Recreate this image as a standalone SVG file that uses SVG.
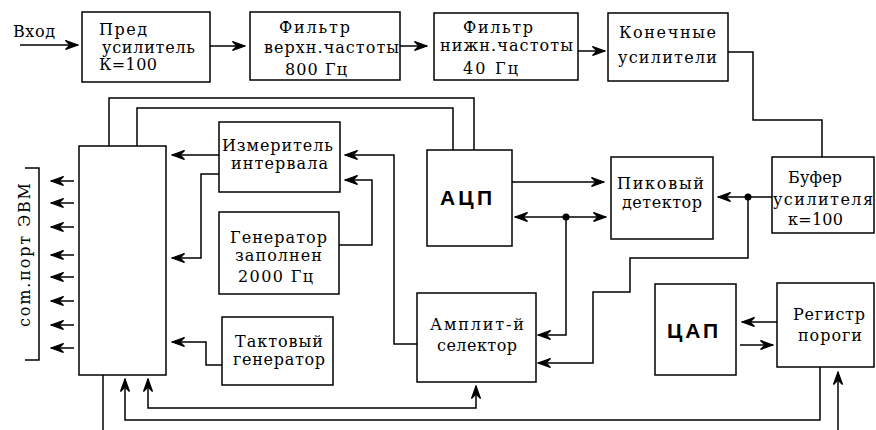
<svg xmlns="http://www.w3.org/2000/svg" width="876" height="430" viewBox="0 0 876 430">
<style>
.b{fill:#fff;stroke:#000;stroke-width:1.5}
.t{font-family:"DejaVu Serif","Liberation Serif",serif;font-size:16px;fill:#000}
.s{font-family:"Liberation Sans",Arial,sans-serif;font-size:21px;font-weight:bold;fill:#000}
.c{fill:none;stroke:#000;stroke-width:1.5}
.a{marker-end:url(#ah)}
.a2{marker-start:url(#ah);marker-end:url(#ah)}
.as{marker-start:url(#ah)}
</style>
<defs>
<marker id="ah" markerUnits="userSpaceOnUse" markerWidth="14" markerHeight="10" viewBox="0 0 14 10" refX="13" refY="5" orient="auto-start-reverse">
<path d="M13,5 L0.5,0.5 L5,5 L0.5,9.5 z" fill="#000" stroke="#000" stroke-width="1.2"/>
</marker>
</defs>
<rect width="876" height="430" fill="#fff"/>
<text class="t" x="13" y="37" textLength="42">Вход</text>
<g id="pre"><rect class="b" x="82" y="12" width="128" height="70"/>
<text class="t" x="99" y="35" textLength="48">Пред</text>
<text class="t" x="102" y="53" textLength="93">усилитель</text>
<text class="t" x="99" y="70" textLength="58">К=100</text></g>
<g id="hpf"><rect class="b" x="250" y="12" width="150" height="68"/>
<text class="t" x="279" y="33" textLength="71">Фильтр</text>
<text class="t" x="264" y="53" textLength="135">верхн.частоты</text>
<text class="t" x="285" y="75" textLength="62">800 Гц</text></g>
<g id="lpf"><rect class="b" x="434" y="13" width="144" height="67"/>
<text class="t" x="463" y="33" textLength="70">Фильтр</text>
<text class="t" x="440" y="51" textLength="133">нижн.частоты</text>
<text class="t" x="463" y="74" textLength="55">40 Гц</text></g>
<g id="amp"><rect class="b" x="608" y="13" width="120" height="68"/>
<text class="t" x="619" y="38" textLength="97">Конечные</text>
<text class="t" x="618" y="63" textLength="99">усилители</text></g>
<g id="buf"><rect class="b" x="772" y="157" width="102" height="76"/>
<text class="t" x="788" y="183" textLength="54">Буфер</text>
<text class="t" x="773" y="205" textLength="100">усилителя</text>
<text class="t" x="788" y="225" textLength="55">к=100</text></g>
<g id="peak"><rect class="b" x="611" y="157" width="102" height="82"/>
<text class="t" x="617" y="189" textLength="87">Пиковый</text>
<text class="t" x="622" y="208" textLength="80">детектор</text></g>
<g id="adc"><rect class="b" x="427" y="150" width="85" height="96"/>
<text class="s" x="440" y="205" textLength="52">АЦП</text></g>
<g id="meas"><rect class="b" x="219" y="122" width="121" height="70"/>
<text class="t" x="222" y="151" textLength="111">Измеритель</text>
<text class="t" x="231" y="169" textLength="97">интервала</text></g>
<g id="gen"><rect class="b" x="219" y="212" width="120" height="82"/>
<text class="t" x="230" y="243" textLength="97">Генератор</text>
<text class="t" x="235" y="261" textLength="87">заполнен</text>
<text class="t" x="238" y="282" textLength="75">2000 Гц</text></g>
<g id="clk"><rect class="b" x="222" y="317" width="111" height="68"/>
<text class="t" x="235" y="347" textLength="88">Тактовый</text>
<text class="t" x="233" y="365" textLength="92">генератор</text></g>
<g id="sel"><rect class="b" x="417" y="293" width="119" height="89"/>
<text class="t" x="430" y="330" textLength="94">Амплит-й</text>
<text class="t" x="437" y="351" textLength="80">селектор</text></g>
<g id="dac"><rect class="b" x="655" y="284" width="81" height="91"/>
<text class="s" x="667" y="338" textLength="51">ЦАП</text></g>
<g id="reg"><rect class="b" x="777" y="283" width="97" height="84"/>
<text class="t" x="793" y="320" textLength="72">Регистр</text>
<text class="t" x="798" y="341" textLength="64">пороги</text></g>
<g id="ctrl"><rect class="b" x="79" y="146" width="87" height="229"/></g>
<g id="port">
<polyline class="c" points="25,168 39,168 39,360 25,360"/>
<text class="t" transform="translate(30,327) rotate(-90)" x="0" y="0" textLength="144">com.порт ЭВМ</text>
</g>
<g id="connectors">
<line class="c a" x1="20" y1="45" x2="78" y2="45"/>
<line class="c a" x1="210" y1="46" x2="245" y2="46"/>
<line class="c a" x1="400" y1="46" x2="427" y2="46"/>
<line class="c a" x1="578" y1="51" x2="605" y2="51"/>
<polyline class="c" points="728,52 753,52 753,120 822,120 822,157"/>
<line class="c a" x1="772" y1="197" x2="718" y2="197"/>
<circle cx="748" cy="197" r="3.5" fill="#000"/>
<polyline class="c a" points="748,197 748,258 630,258 630,292 593,292 593,363 538,363"/>
<line class="c a" x1="512" y1="182" x2="604" y2="182"/>
<line class="c a2" x1="515" y1="217" x2="606" y2="217"/>
<circle cx="566" cy="217" r="3.5" fill="#000"/>
<polyline class="c a" points="566,217 566,335 538,335"/>
<polyline class="c" points="474,150 474,98 109,98 109,146"/>
<polyline class="c" points="453,150 453,108 137,108 137,146"/>
<polyline class="c a" points="417,344 394,344 394,155 345,155"/>
<polyline class="c a" points="339,245 372,245 372,180 345,180"/>
<line class="c a" x1="219" y1="155" x2="172" y2="155"/>
<polyline class="c a" points="219,174 201,174 201,258 172,258"/>
<polyline class="c a" points="222,365 206,365 206,342 172,342"/>
<line class="c" x1="103" y1="375" x2="103" y2="430"/>
<polyline class="c a2" points="148,379 148,408 476,408 476,386"/>
<polyline class="c as" points="125,379 125,420 820,420 820,367"/>
<line class="c a" x1="838" y1="430" x2="838" y2="372"/>
<line class="c a" x1="777" y1="322" x2="742" y2="322"/>
<line class="c a" x1="740" y1="345" x2="773" y2="345"/>
<line class="c a" x1="74" y1="181" x2="51" y2="181"/>
<line class="c a" x1="74" y1="203" x2="51" y2="203"/>
<line class="c a" x1="74" y1="227" x2="51" y2="227"/>
<line class="c a" x1="74" y1="255" x2="51" y2="255"/>
<line class="c a" x1="74" y1="277" x2="51" y2="277"/>
<line class="c a" x1="74" y1="301" x2="51" y2="301"/>
<line class="c a" x1="74" y1="325" x2="51" y2="325"/>
<line class="c a" x1="74" y1="348" x2="51" y2="348"/>
</g>
</svg>
